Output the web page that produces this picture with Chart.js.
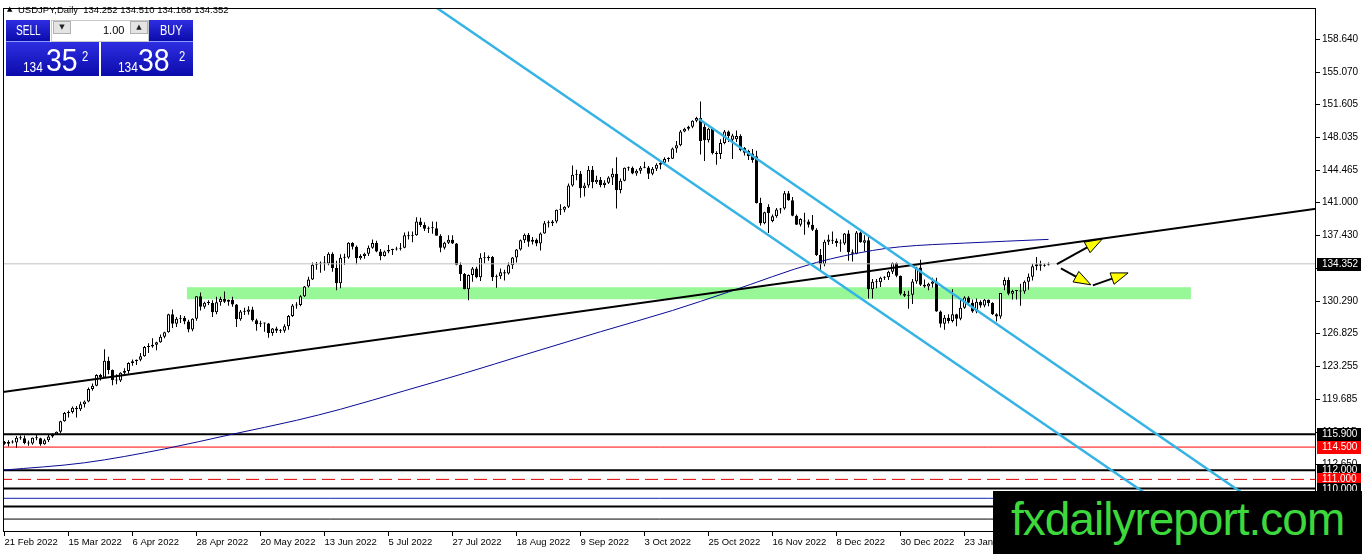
<!DOCTYPE html>
<html>
<head>
<meta charset="utf-8">
<title>USDJPY Daily</title>
<script src="https://cdn.jsdelivr.net/npm/chart.js@4.4.1/dist/chart.umd.min.js"></script>
<style>
  html, body { margin: 0; padding: 0; background: #fff; }
  #wrap { position: relative; width: 1362px; height: 554px; overflow: hidden; font-family: "Liberation Sans", Arial, sans-serif; }
  #chart { position: absolute; left: 0; top: 0; }
  .abs { position: absolute; line-height: 1; white-space: pre; }
  #title { left: 18px; top: 5px; font-size: 9.5px; color: #000; }
  #tri { left: 7px; top: 6px; font-size: 7px; font-family: "DejaVu Sans", sans-serif; }
  .blue { position: absolute; box-sizing: border-box; background: linear-gradient(#2e2ee2, #0b0bab); color: #fff; }
  .btn { border-bottom: 1px solid #8a9cff; }
  .sq { position: absolute; box-sizing: border-box; background: #e4e4e4; border: 1px solid #b0b0b0; font-size: 7px; text-align: center; line-height: 11px; font-family: "DejaVu Sans", sans-serif; color: #222; }
  .nar { display: inline-block; transform-origin: left top; }
  #wm { position: absolute; left: 993px; top: 491px; width: 369px; height: 63px; background: #000; }
  #wmt { position: absolute; left: 18px; top: 5px; font-size: 46px; letter-spacing: -1px; color: #3cd83c; line-height: 1; }
</style>
</head>
<body>
<div id="wrap">
  <canvas id="chart" width="1362" height="554"></canvas>

  <div class="abs" id="tri">▲</div>
  <div class="abs" id="title">USDJPY,Daily  134.252 134.510 134.168 134.352</div>

  <div style="position:absolute;left:51px;top:20px;width:98px;height:22px;background:#fff;border:1px solid #c8c8c8;box-sizing:border-box;"></div>
  <div class="sq" style="left:53px;top:21px;width:18px;height:13px;">▼</div>
  <div class="sq" style="left:130px;top:21px;width:18px;height:13px;">▲</div>
  <div class="abs" style="left:103px;top:25px;font-size:11px;color:#000;">1.00</div>

  <div class="blue btn" style="left:6px;top:20px;width:44px;height:22px;"></div>
  <div class="abs" style="left:16px;top:23px;font-size:14px;color:#fff;"><span class="nar" style="transform:scaleX(0.72)">SELL</span></div>
  <div class="blue btn" style="left:149px;top:20px;width:44px;height:22px;"></div>
  <div class="abs" style="left:160px;top:23px;font-size:14px;color:#fff;"><span class="nar" style="transform:scaleX(0.78)">BUY</span></div>

  <div class="blue" style="left:6px;top:42px;width:93px;height:34px;"></div>
  <div class="abs" style="left:23px;top:60px;font-size:14px;color:#fff;"><span class="nar" style="transform:scaleX(0.85)">134</span></div>
  <div class="abs" style="left:46px;top:44px;font-size:32px;color:#fff;"><span class="nar" style="transform:scaleX(0.89)">35</span></div>
  <div class="abs" style="left:82px;top:48px;font-size:15px;color:#fff;"><span class="nar" style="transform:scaleX(0.75)">2</span></div>

  <div class="blue" style="left:101px;top:42px;width:92px;height:34px;"></div>
  <div class="abs" style="left:118px;top:60px;font-size:14px;color:#fff;"><span class="nar" style="transform:scaleX(0.85)">134</span></div>
  <div class="abs" style="left:138px;top:44px;font-size:32px;color:#fff;"><span class="nar" style="transform:scaleX(0.89)">38</span></div>
  <div class="abs" style="left:179px;top:48px;font-size:15px;color:#fff;"><span class="nar" style="transform:scaleX(0.75)">2</span></div>

  <div id="wm"><div id="wmt">fxdailyreport.com</div></div>
</div>

<script>
// daily candles, 21 Feb 2022 .. 21 Feb 2023 (one slot per weekday), two weeks per row
const opens = [
  115.05,114.85,115.05,115.00,115.50, 115.45,114.95,114.90,115.50,115.45,
  114.80,115.25,115.65,115.85,116.15, 117.30,118.20,118.30,118.75,118.60,
  119.15,119.45,120.80,121.15,122.30, 122.05,123.85,122.85,121.75,121.70,
  122.55,122.75,123.60,123.80,123.95, 124.35,125.35,125.40,125.60,125.85,
  126.45,126.95,128.90,127.85,128.40, 128.50,128.10,127.25,128.40,130.85,
  129.70,130.15,130.10,129.10,130.20, 130.55,130.25,130.45,129.95,128.35,
  129.20,129.15,129.40,128.25,127.80, 127.90,127.90,126.85,127.35,127.10,
  127.10,127.60,128.70,129.85,129.90, 130.85,131.90,132.65,134.25,134.35,
  134.40,134.40,135.45,133.90,132.25, 135.00,135.05,136.65,136.20,134.95,
  135.20,135.45,136.10,136.60,135.70, 135.20,135.70,135.85,135.90,136.00,
  136.10,137.45,137.35,137.45,138.95, 138.55,138.15,138.20,138.20,137.40,
  136.10,136.65,136.95,136.55,134.25, 133.25,131.60,133.15,133.85,132.90,
  135.00,134.95,135.10,132.90,133.00, 133.45,133.30,134.20,135.05,135.90,
  136.90,137.50,136.75,136.95,136.55, 137.65,138.75,138.75,138.95,140.20,
  140.20,140.55,142.85,144.00,144.10, 142.55,142.85,144.55,143.20,143.45,
  142.90,143.15,143.70,144.10,142.35, 143.35,144.70,144.75,144.15,144.45,
  144.75,144.80,144.10,144.65,145.10, 145.30,145.70,145.75,146.85,147.20,
  148.70,149.00,149.20,149.85,150.15, 149.20,147.75,149.00,146.35,146.25,
  147.45,148.70,147.80,147.85,148.20, 146.90,146.60,146.30,146.00,140.95,
  138.75,140.50,139.00,139.50,140.25, 140.35,142.00,141.25,139.55,138.60,
  139.05,138.95,138.60,138.05,135.30, 134.30,136.75,136.95,136.85,136.60,
  136.55,137.65,135.60,135.45,137.75, 136.65,136.90,131.60,132.40,132.35,
  132.85,132.90,133.50,134.45,133.05, 131.10,130.90,131.00,132.45,133.95,
  132.10,131.90,132.20,132.45,129.20, 127.85,128.50,128.15,128.90,128.40,
  129.60,130.70,130.15,129.20,130.25, 129.85,130.45,130.10,128.90,128.65,
  132.00,132.60,131.10,131.40,131.45, 131.35,132.40,132.95,134.10,134.30,
  134.15,134.252
];
const highs = [
  115.15,115.25,115.25,115.70,115.75, 115.75,115.20,115.55,115.80,115.50,
  115.40,115.80,116.00,116.20,117.35, 118.30,118.45,118.90,118.95,119.40,
  119.55,120.95,121.40,122.40,122.45, 125.10,124.30,122.90,122.40,122.60,
  123.05,123.70,124.00,124.00,124.70, 125.45,125.75,126.30,125.90,126.70,
  127.00,128.95,129.40,128.60,128.80, 128.70,128.30,128.45,130.85,131.25,
  130.25,130.40,130.40,130.80,130.80, 131.35,130.50,130.80,130.00,129.35,
  129.60,129.75,129.70,128.40,128.20, 128.00,127.95,127.40,127.55,127.30,
  127.80,128.80,130.00,130.20,130.95, 131.95,132.95,134.50,134.55,134.60,
  135.20,135.60,135.60,134.70,135.40, 135.45,136.70,136.70,136.35,135.40,
  135.55,136.35,137.00,136.85,135.95, 135.80,136.40,136.00,136.20,136.60,
  137.75,137.85,137.85,139.40,139.35, 138.85,138.40,138.95,138.90,137.55,
  136.75,137.45,137.45,136.60,134.50, 133.35,133.20,134.00,134.05,135.50,
  135.60,135.25,135.20,133.20,133.85, 133.70,134.50,135.10,135.95,137.00,
  137.65,137.70,137.25,137.10,137.75, 139.00,139.05,139.10,140.25,140.80,
  140.60,143.05,145.00,144.55,144.40, 143.15,144.95,144.95,143.90,143.75,
  143.40,143.85,144.70,145.90,143.60, 144.80,144.90,144.90,144.60,144.95,
  145.40,144.95,144.85,145.25,145.45, 145.90,145.90,146.95,147.65,148.85,
  149.10,149.30,149.90,150.30,151.95, 149.70,149.10,149.05,146.55,147.85,
  148.85,148.80,148.45,148.80,148.40, 147.00,146.70,146.80,146.60,141.50,
  140.00,140.80,139.70,140.40,140.40, 142.25,142.25,141.60,139.70,139.30,
  139.90,139.15,139.65,138.20,135.95, 136.95,137.50,137.85,137.10,137.00,
  137.70,138.00,135.90,137.90,137.85, 137.45,137.45,132.70,132.70,132.95,
  133.00,133.60,134.50,134.50,133.10, 131.40,131.45,132.70,134.05,134.80,
  132.65,132.30,132.85,132.85,129.30, 128.80,128.90,131.60,128.95,130.65,
  130.85,130.85,130.50,130.60,130.40, 130.55,130.50,130.20,129.00,131.20,
  132.90,132.90,131.55,131.50,132.20, 132.55,133.30,134.35,135.10,134.70,
  134.40,134.510
];
const lows = [
  114.75,114.55,114.90,114.40,115.30, 114.80,114.65,114.75,115.25,114.65,
  114.75,115.05,115.50,115.80,116.00, 117.25,117.70,118.15,117.70,118.40,
  118.80,119.35,120.60,121.10,121.70, 122.00,122.40,121.20,121.30,121.55,
  122.40,122.45,123.30,123.40,123.80, 124.30,124.70,125.25,125.00,125.80,
  126.30,126.90,127.40,127.50,127.95, 127.80,126.95,127.05,128.20,129.30,
  129.50,129.90,128.60,128.90,129.80, 130.10,129.80,129.70,127.50,128.20,
  128.80,128.85,128.10,127.10,127.50, 127.00,126.35,126.55,126.85,126.85,
  126.90,127.20,128.60,129.50,129.75, 130.75,131.80,132.60,133.70,133.40,
  133.60,134.20,133.50,131.50,131.70, 134.25,134.90,135.90,134.30,134.80,
  134.90,135.20,136.00,135.60,134.75, 135.15,135.50,135.30,135.80,135.80,
  136.05,137.00,136.70,137.40,138.35, 137.90,137.70,137.60,137.40,135.60,
  135.90,136.50,136.50,134.20,132.50, 131.60,130.40,132.40,132.80,132.50,
  134.40,134.70,132.50,131.75,132.70, 132.55,133.20,133.80,134.50,135.80,
  136.60,136.20,136.45,136.25,135.80, 137.60,138.30,138.45,138.75,139.65,
  139.95,140.40,142.70,143.40,141.50, 141.65,142.60,142.55,143.00,142.65,
  142.60,143.00,142.90,140.35,142.00, 143.30,144.45,144.05,143.90,144.10,
  144.70,143.55,143.95,144.40,144.60, 145.25,145.40,145.70,146.40,147.10,
  148.60,148.80,149.05,149.70,146.20, 145.50,147.50,146.20,145.10,145.70,
  147.30,147.55,145.70,147.55,146.55, 146.10,145.60,145.30,140.90,138.50,
  138.65,137.70,138.85,139.35,139.80, 140.20,141.20,139.50,138.55,138.40,
  137.50,138.30,137.90,135.20,133.60, 134.10,136.40,136.50,136.20,135.65,
  136.40,134.70,134.60,135.40,136.65, 135.70,130.60,130.60,131.70,131.85,
  132.60,132.60,133.25,132.90,130.95, 130.75,129.50,130.00,132.20,131.95,
  131.75,131.50,131.80,129.15,127.45, 127.20,127.90,128.00,127.60,128.25,
  129.50,129.95,129.05,129.00,129.60, 129.65,129.75,128.80,128.10,128.40,
  131.50,130.95,130.50,130.50,129.80, 131.10,131.55,132.55,133.65,133.60,
  134.05,134.168
];
const closes = [
  114.85,115.05,115.00,115.50,115.45, 114.95,114.90,115.50,115.45,114.80,
  115.25,115.65,115.85,116.15,117.30, 118.20,118.30,118.75,118.60,119.15,
  119.45,120.80,121.15,122.30,122.05, 123.85,122.85,121.75,121.70,122.55,
  122.75,123.60,123.80,123.95,124.35, 125.35,125.40,125.60,125.85,126.45,
  126.95,128.90,127.85,128.40,128.50, 128.10,127.25,128.40,130.85,129.70,
  130.15,130.10,129.10,130.20,130.55, 130.25,130.45,129.95,128.35,129.20,
  129.15,129.40,128.25,127.80,127.90, 127.90,126.85,127.35,127.10,127.10,
  127.60,128.70,129.85,129.90,130.85, 131.90,132.65,134.25,134.35,134.40,
  134.40,135.45,133.90,132.25,135.00, 135.05,136.65,136.20,134.95,135.20,
  135.45,136.10,136.60,135.70,135.20, 135.70,135.85,135.90,136.00,136.10,
  137.45,137.35,137.45,138.95,138.55, 138.15,138.20,138.20,137.40,136.10,
  136.65,136.95,136.55,134.25,133.25, 131.60,133.15,133.85,132.90,135.00,
  134.95,135.10,132.90,133.00,133.45, 133.30,134.20,135.05,135.90,136.90,
  137.50,136.75,136.95,136.55,137.65, 138.75,138.75,138.95,140.20,140.20,
  140.55,142.85,144.00,144.10,142.55, 142.85,144.55,143.20,143.45,142.90,
  143.15,143.70,144.10,142.35,143.35, 144.75,144.75,144.15,144.45,144.75,
  144.80,144.10,144.65,145.10,145.30, 145.70,145.75,146.85,147.20,148.70,
  149.00,149.20,149.85,150.15,147.65, 147.75,149.00,146.35,146.25,147.45,
  148.70,148.20,148.25,148.20,146.65, 146.40,146.00,145.60,140.95,138.75,
  139.95,139.85,139.50,140.25,140.35, 142.00,141.25,139.55,138.60,139.20,
  138.95,138.60,138.05,135.30,134.30, 136.75,137.00,136.85,136.60,136.55,
  137.65,135.60,135.45,137.75,136.70, 136.90,131.60,132.40,132.35,132.85,
  132.90,133.50,134.45,133.05,131.10, 130.90,131.00,132.45,133.95,132.10,
  131.90,132.20,132.45,129.20,127.85, 128.50,128.15,128.90,128.40,129.60,
  130.70,130.15,129.20,130.25,129.85, 130.45,130.10,128.90,128.65,131.20,
  132.60,131.10,131.40,131.45,131.35, 132.40,132.95,134.10,134.30,134.15,
  134.25,134.352
];

// moving average (bar slot -> price)
const maIdx  = [-0.4, 20, 40, 57, 73, 84, 100, 115, 130, 149, 167, 181, 203, 217, 224, 240, 261];
const maVals = [112.0, 112.8, 114.3, 115.9, 117.4, 118.6, 120.6, 122.5, 124.5, 127.0, 129.3, 131.3, 134.5, 135.8, 136.2, 136.6, 137.0];

// drawn objects
const trendIdx = [-0.4, 328];
const trendVal = [120.47, 140.32];
const chanAIdx = [108.1, 299.3];
const chanAVal = [162.07, 105.30];
const chanBIdx = [173.6, 323.6];
const chanBVal = [150.05, 105.30];
const zoneIdx = [45.6, 296.6];
const zoneVal = [130.52, 131.82];
const levelVals = [115.9, 114.5, 112.0, 111.0, 110.0, 108.95, 108.07, 106.7];
const bidPrice = 134.352;
const tagVals = [134.352, 115.9, 114.5, 112.0, 111.0, 110.0];
const arrowFrom = [[263.1, 134.33], [264.1, 133.85], [272.1, 132.02]];
const arrowTo   = [[274.4, 137.02], [271.6, 132.08], [280.9, 133.37]];

// axes
const xTickIdx = [0, 16, 32, 48, 64, 80, 96, 112, 128, 144, 160, 176, 192, 208, 224, 240, 256];
const xTickText = ['21 Feb 2022', '15 Mar 2022', '6 Apr 2022', '28 Apr 2022', '20 May 2022', '13 Jun 2022',
  '5 Jul 2022', '27 Jul 2022', '18 Aug 2022', '9 Sep 2022', '3 Oct 2022', '25 Oct 2022', '16 Nov 2022',
  '8 Dec 2022', '30 Dec 2022', '23 Jan 2023', '14 Feb 2023'];
const yTicks = [158.640, 155.070, 151.605, 148.035, 144.465, 141.000, 137.430, 133.860,
  130.290, 126.825, 123.255, 119.685, 116.115, 112.650];

const X_MIN = -0.375, X_MAX = 327.875;
const Y_MIN = 105.30, Y_MAX = 162.07;

const levelColor = ['#000', '#ff0000', '#000', '#e00000', '#000', '#1020b0', '#000', '#000'];
const levelWidth = [2, 1, 2, 1, 2, 1, 2, 1];
const levelDash  = [[], [], [], [13, 6], [], [], [], []];
const tagColor = ['#000', '#000', '#ff0000', '#000', '#ff0000', '#000'];

const slots = closes.map((c, i) => i);
const seg = (xs, ys) => xs.map((v, i) => ({x: v, y: ys[i]}));
const flatLine = (p) => [{x: X_MIN - 1, y: p}, {x: X_MAX + 1, y: p}];

const datasets = [];

datasets.push({
  type: 'bar', label: 'body', order: 20,
  data: slots.map(i => ({x: i, y: [opens[i], closes[i]]})),
  backgroundColor: slots.map(i => closes[i] >= opens[i] ? '#ffffff' : '#000000'),
  borderColor: '#000', borderWidth: 1, borderSkipped: false,
  barThickness: 3, minBarLength: 1, grouped: false, inflateAmount: 0
});
datasets.push({
  type: 'bar', label: 'wick', order: 21,
  data: slots.map(i => ({x: i, y: [lows[i], highs[i]]})),
  backgroundColor: '#000', borderWidth: 0,
  barThickness: 1, grouped: false, inflateAmount: 0
});

datasets.push({type: 'line', order: 9, data: flatLine(bidPrice), borderColor: '#c0c0c0', borderWidth: 1});
levelVals.forEach((p, k) => {
  datasets.push({type: 'line', order: 8, data: flatLine(p), borderColor: levelColor[k],
    borderWidth: levelWidth[k], borderDash: levelDash[k]});
});
datasets.push({type: 'line', order: 5, data: seg(maIdx, maVals), borderColor: '#0a0a96', borderWidth: 1,
  cubicInterpolationMode: 'monotone'});
datasets.push({type: 'line', order: 4, data: seg(trendIdx, trendVal), borderColor: '#000', borderWidth: 2});
datasets.push({type: 'line', order: 3, data: seg(chanAIdx, chanAVal), borderColor: '#35b3e5', borderWidth: 2.5});
datasets.push({type: 'line', order: 3, data: seg(chanBIdx, chanBVal), borderColor: '#35b3e5', borderWidth: 2.5});

const xFont = {family: 'Liberation Sans', size: 9.5};
const yFont = {family: 'Liberation Sans', size: 10};

const extras = {
  id: 'extras',
  beforeDatasetsDraw(chart) {
    const {ctx, scales: {x, y}} = chart;
    ctx.save();
    ctx.fillStyle = '#98f898';
    const x0 = x.getPixelForValue(zoneIdx[0]), x1 = x.getPixelForValue(zoneIdx[1]);
    const y0 = y.getPixelForValue(zoneVal[1]), y1 = y.getPixelForValue(zoneVal[0]);
    ctx.fillRect(x0, y0, x1 - x0, y1 - y0);
    ctx.restore();
  },
  afterDatasetsDraw(chart) {
    const {ctx, scales: {x, y}} = chart;
    ctx.save();
    for (let k = 0; k < arrowFrom.length; k++) {
      const ax = x.getPixelForValue(arrowFrom[k][0]), ay = y.getPixelForValue(arrowFrom[k][1]);
      const bx = x.getPixelForValue(arrowTo[k][0]), by = y.getPixelForValue(arrowTo[k][1]);
      const len = Math.hypot(bx - ax, by - ay);
      const ux = (bx - ax) / len, uy = (by - ay) / len;
      const head = 17, half = 6;
      const hx = bx - ux * head, hy = by - uy * head;
      ctx.strokeStyle = '#000';
      ctx.lineWidth = 2;
      ctx.beginPath();
      ctx.moveTo(ax, ay);
      ctx.lineTo(hx, hy);
      ctx.stroke();
      ctx.beginPath();
      ctx.moveTo(bx, by);
      ctx.lineTo(hx - uy * half, hy + ux * half);
      ctx.lineTo(hx + uy * half, hy - ux * half);
      ctx.closePath();
      ctx.fillStyle = '#ffff00';
      ctx.fill();
      ctx.lineWidth = 1;
      ctx.stroke();
    }
    ctx.restore();
  },
  afterDraw(chart) {
    const {ctx, chartArea: ca, scales: {y}} = chart;
    ctx.save();
    ctx.strokeStyle = '#000';
    ctx.lineWidth = 1;
    ctx.strokeRect(ca.left + 0.5, ca.top + 0.5, ca.right - ca.left - 1, ca.bottom - ca.top - 1);
    ctx.font = '10px "Liberation Sans"';
    ctx.textBaseline = 'middle';
    tagVals.forEach((p, k) => {
      const py = Math.round(y.getPixelForValue(p));
      ctx.fillStyle = tagColor[k];
      ctx.fillRect(ca.right + 1, py - 6, 44, 13);
      ctx.fillStyle = '#fff';
      ctx.fillText(p.toFixed(3), ca.right + 6, py + 0.5);
    });
    ctx.restore();
  }
};

new Chart(document.getElementById('chart'), {
  type: 'bar',
  data: {datasets},
  options: {
    responsive: false,
    animation: false,
    events: [],
    layout: {padding: {left: 3, top: 3, right: 0, bottom: 0}},
    elements: {point: {radius: 0}, line: {tension: 0, fill: false}},
    plugins: {legend: {display: false}, tooltip: {enabled: false}},
    scales: {
      x: {
        type: 'linear', min: X_MIN, max: X_MAX, offset: false,
        border: {display: false},
        grid: {drawOnChartArea: false, drawTicks: true, tickLength: 4, color: '#000', offset: false},
        afterBuildTicks: (s) => { s.ticks = xTickIdx.map(v => ({value: v})); },
        afterFit: (s) => { s.height = 22; },
        ticks: {
          autoSkip: false, maxRotation: 0, align: 'start', padding: 1, color: '#000', font: xFont,
          callback: (v) => xTickText[xTickIdx.indexOf(v)]
        }
      },
      y: {
        type: 'linear', position: 'right', min: Y_MIN, max: Y_MAX,
        border: {display: false},
        grid: {drawOnChartArea: false, drawTicks: true, tickLength: 4, color: '#000'},
        afterBuildTicks: (s) => { s.ticks = yTicks.map(v => ({value: v})); },
        afterFit: (s) => { s.width = 46; },
        ticks: {autoSkip: false, padding: 2, color: '#000', font: yFont, callback: (v) => v.toFixed(3)}
      }
    }
  },
  plugins: [extras]
});
</script>
</body>
</html>
